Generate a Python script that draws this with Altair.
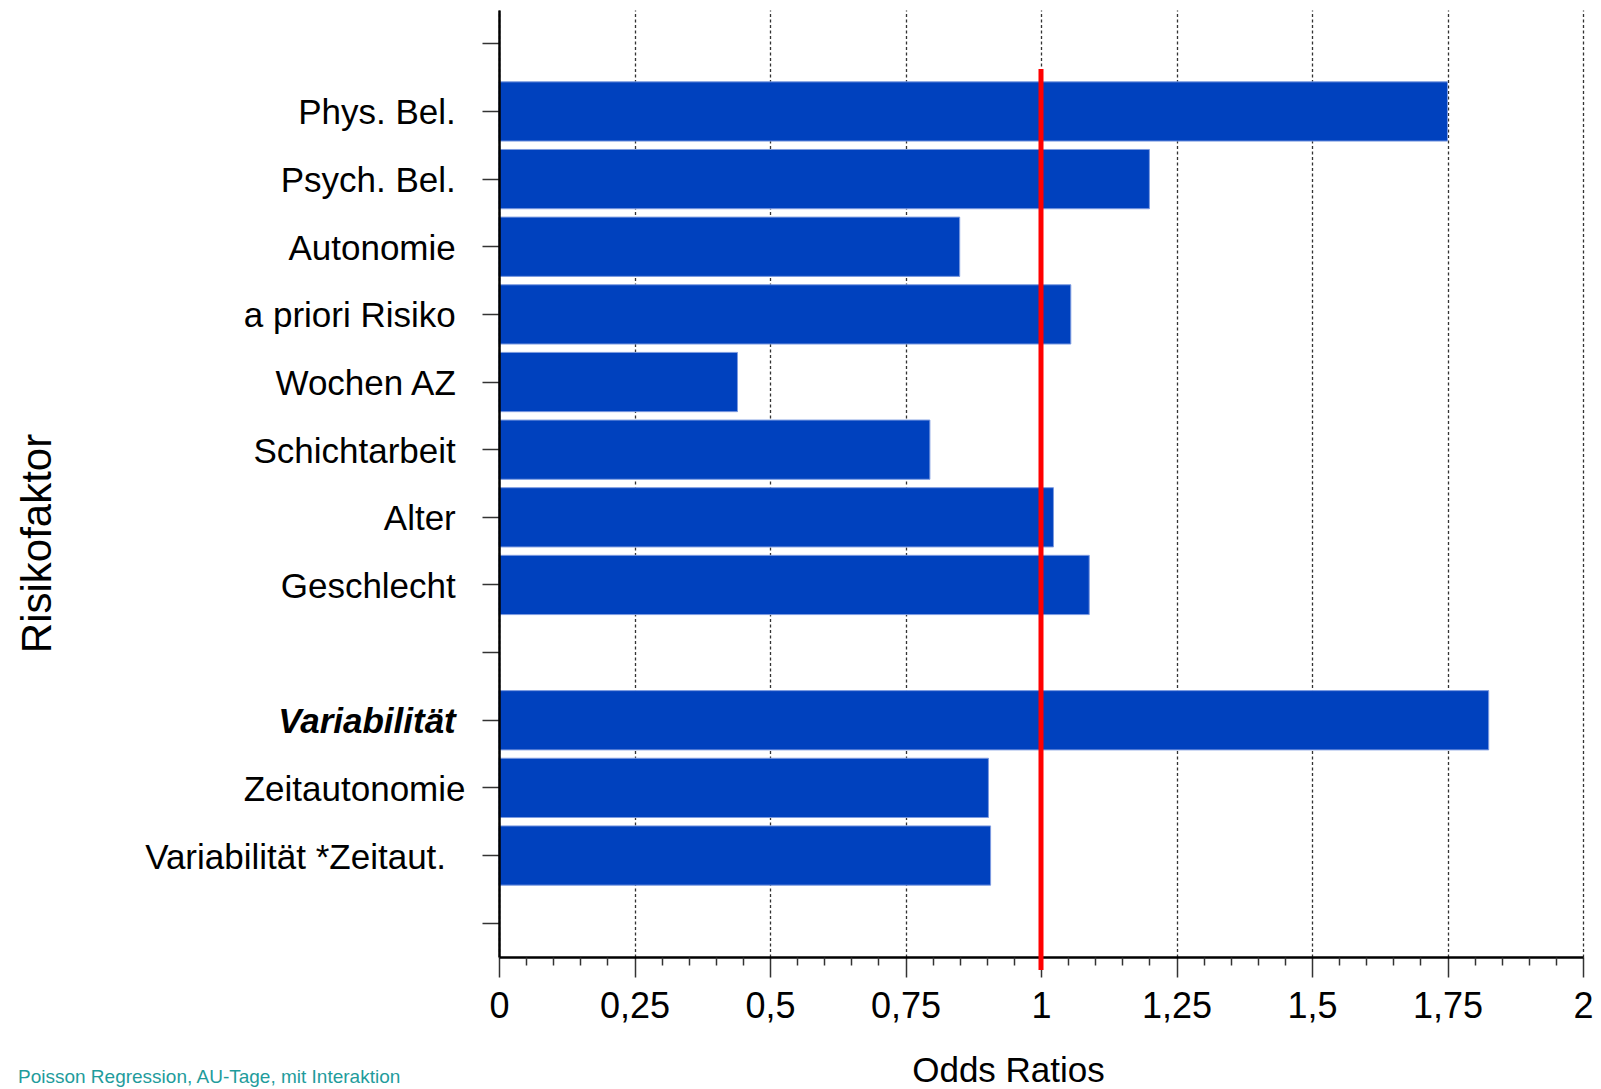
import altair as alt
import pandas as pd

# ---- data ----
factors = [
    "Phys. Bel.", "Psych. Bel.", "Autonomie", "a priori Risiko", "Wochen AZ",
    "Schichtarbeit", "Alter", "Geschlecht",
    "Variabilität", "Zeitautonomie", "Variabilität *Zeitaut.",
]
odds_ratios = [1.75, 1.20, 0.85, 1.055, 0.44, 0.795, 1.023, 1.089, 1.826, 0.903, 0.907]

# category order on the axis (blank rows are empty slots)
axis_order = [" "] + factors[:8] + ["  "] + factors[8:] + ["   "]

major_ticks = [0, 0.25, 0.5, 0.75, 1, 1.25, 1.5, 1.75, 2]
minor_ticks = [round(i * 0.05, 2) for i in range(41) if i % 5 != 0]

reference_value = [1.0]
footnote = ["Poisson Regression, AU-Tage, mit Interaktion"]

FONT = "Liberation Sans"

df = pd.DataFrame({"Risikofaktor": factors, "OR": odds_ratios})
ref_df = pd.DataFrame({"ref": reference_value})
note_df = pd.DataFrame({"t": footnote})

pad = "\u00a0\u2060"
label_expr = (
    "datum.value == 'Zeitautonomie' ? datum.value : "
    f"datum.value == 'Variabilität *Zeitaut.' ? datum.value + '{pad}{pad}' : "
    f"datum.value + '{pad}'"
)

bars = alt.Chart(df).mark_bar(
    color="#0041BE", stroke="#7d9be0", strokeWidth=1
).encode(
    x=alt.X(
        "OR:Q",
        scale=alt.Scale(domain=[0, 2], nice=False),
        axis=alt.Axis(
            orient="bottom",
            values=major_ticks,
            format=".2~f",
            labelExpr="replace(datum.label, '.', ',')",
            labelFont=FONT, labelFontSize=36, labelColor="black",
            labelPadding=12, labelFlush=False, labelOverlap=False,
            tickSize=20, tickColor="#333333", tickWidth=1.5,
            domainColor="black", domainWidth=2.5,
            grid=True, gridColor="#333333", gridDash=[3, 2.5], gridWidth=1.3,
            title="Odds Ratios", titleFont=FONT, titleFontSize=35,
            titleFontWeight="normal", titleColor="black",
            titleX=509, titleY=124, titleBaseline="alphabetic", titleAlign="center",
        ),
    ),
    y=alt.Y(
        "Risikofaktor:N",
        sort=axis_order,
        scale=alt.Scale(domain=axis_order, paddingInner=0.124, paddingOuter=0.062),
        axis=alt.Axis(
            title="Risikofaktor", titleFont=FONT, titleFontSize=42,
            titleFontWeight="normal", titleColor="black", titleAngle=270,
            titleX=-449, titleY=533, titleBaseline="alphabetic", titleAlign="center",
            labelExpr=label_expr,
            labelFont=FONT, labelFontSize=35, labelColor="black",
            labelPadding=17, labelOffset=2, labelLimit=1000,
            labelFontWeight={"condition": {"test": "datum.value == 'Variabilität'", "value": "bold"}, "value": "normal"},
            labelFontStyle={"condition": {"test": "datum.value == 'Variabilität'", "value": "italic"}, "value": "normal"},
            tickSize=17, tickColor="#333333", tickWidth=1.5,
            domainColor="black", domainWidth=2.5,
            grid=False, zindex=1,
        ),
    ),
)

rule = alt.Chart(ref_df).mark_rule(color="#FF0000", strokeWidth=5).encode(
    x=alt.X(
        "ref:Q",
        scale=alt.Scale(domain=[0, 2], nice=False),
        axis=alt.Axis(
            orient="bottom", values=minor_ticks, labels=False, domain=False,
            grid=False, title=None, tickSize=8, tickColor="#333333", tickWidth=1.5,
        ),
    ),
    y=alt.value(59),
    y2=alt.value(960),
)

note = alt.Chart(note_df).mark_text(
    align="left", baseline="alphabetic", font=FONT, fontSize=19, color="#1f9c9c"
).encode(
    x=alt.value(-481),
    y=alt.value(1073),
    text="t:N",
)

chart = alt.layer(bars, rule, note).resolve_axis(x="independent").properties(
    width=1084,
    height=947,
    autosize=alt.AutoSizeParams(type="none"),
    padding={"left": 491, "top": 2, "right": 10, "bottom": 132},
).configure(font=FONT).configure_view(stroke=None)

chart.save("out.html", embed_options={"renderer": "svg", "actions": False})
